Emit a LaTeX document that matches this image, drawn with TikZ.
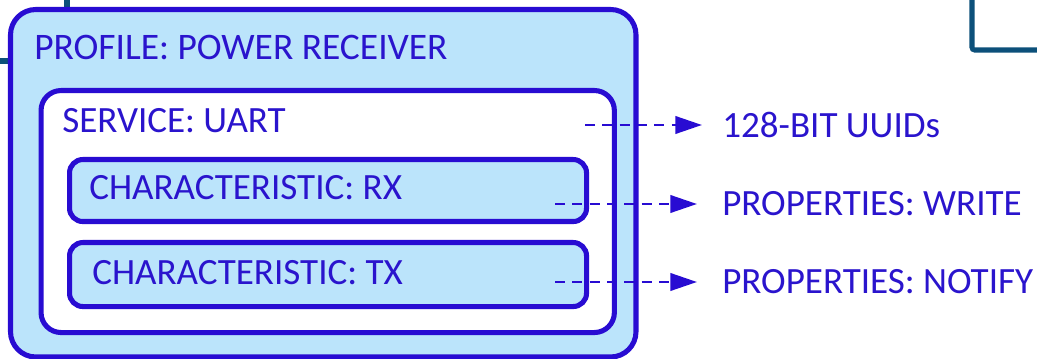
\documentclass[tikz,border=0pt]{standalone}
\usepackage{fontspec}
\setmainfont{Carlito}
\usetikzlibrary{arrows.meta}
\definecolor{bordc}{RGB}{40,12,210}
\definecolor{txtc}{RGB}{42,20,205}
\definecolor{fillc}{RGB}{187,228,251}
\definecolor{tealc}{RGB}{12,80,122}
\begin{document}
\begin{tikzpicture}[x=0.75pt,y=-0.75pt,
  outerbox/.style={draw=bordc,fill=fillc,line width=3.8pt,rounded corners=19pt},
  servbox/.style={draw=bordc,fill=white,line width=3.8pt,rounded corners=15pt},
  charbox/.style={draw=bordc,fill=fillc,line width=3.8pt,rounded corners=10pt},
  lbl/.style={text=txtc,inner sep=0pt,anchor=base west,font=\fontsize{27.8}{30}\selectfont},
  biglbl/.style={lbl,font=\fontsize{28.1}{32}\selectfont},
  dasharrow/.style={draw=bordc,line width=2.2pt,dash pattern=on 7.5pt off 5.5pt,
    -{Triangle[length=20pt,width=13pt]}},
  tealline/.style={draw=tealc,line width=3.8pt}]
\useasboundingbox (0,0) rectangle (1037,359);
% partial teal connectors from outside
\draw[tealline] (67,0) -- (67,9);
\draw[tealline] (0,61) -- (9,61);
\draw[tealline,rounded corners=2pt] (972,0) -- (972,50) -- (1040,50);
% boxes
\draw[outerbox] (10.5,9.5) rectangle (636,357);
\node[servbox,anchor=north west,minimum width=430pt,minimum height=181.5pt] (service) at (38.5,88) {};
\node[charbox,anchor=north west,minimum width=387.75pt,minimum height=46.5pt] (rx) at (67,157) {};
\node[charbox,anchor=north west,minimum width=387.75pt,minimum height=48pt] (tx) at (67,240) {};
% labels
\node[biglbl] (profilelbl) at (34,60) {PROFILE: POWER RECEIVER};
\node[lbl] (servicelbl) at (62,133) {SERVICE: UART};
\node[lbl] (rxlbl) at (89,200) {CHARACTERISTIC: RX};
\node[lbl] (txlbl) at (92,285) {CHARACTERISTIC: TX};
\node[lbl] (uuid) at (722,138) {128-BIT UUIDs};
\node[lbl] (write) at (722,216) {PROPERTIES: WRITE};
\node[lbl] (notify) at (722,293) {PROPERTIES: NOTIFY};
% dashed connectors
\coordinate (a1) at (585,125);
\coordinate (a2) at (555,204);
\coordinate (a3) at (555,282);
\draw[dasharrow,shorten >=15pt] (a1) -- (a1 -| uuid.west);
\draw[dasharrow,shorten >=18.75pt] (a2) -- (a2 -| write.west);
\draw[dasharrow,shorten >=18.75pt] (a3) -- (a3 -| notify.west);
\end{tikzpicture}
\end{document}
